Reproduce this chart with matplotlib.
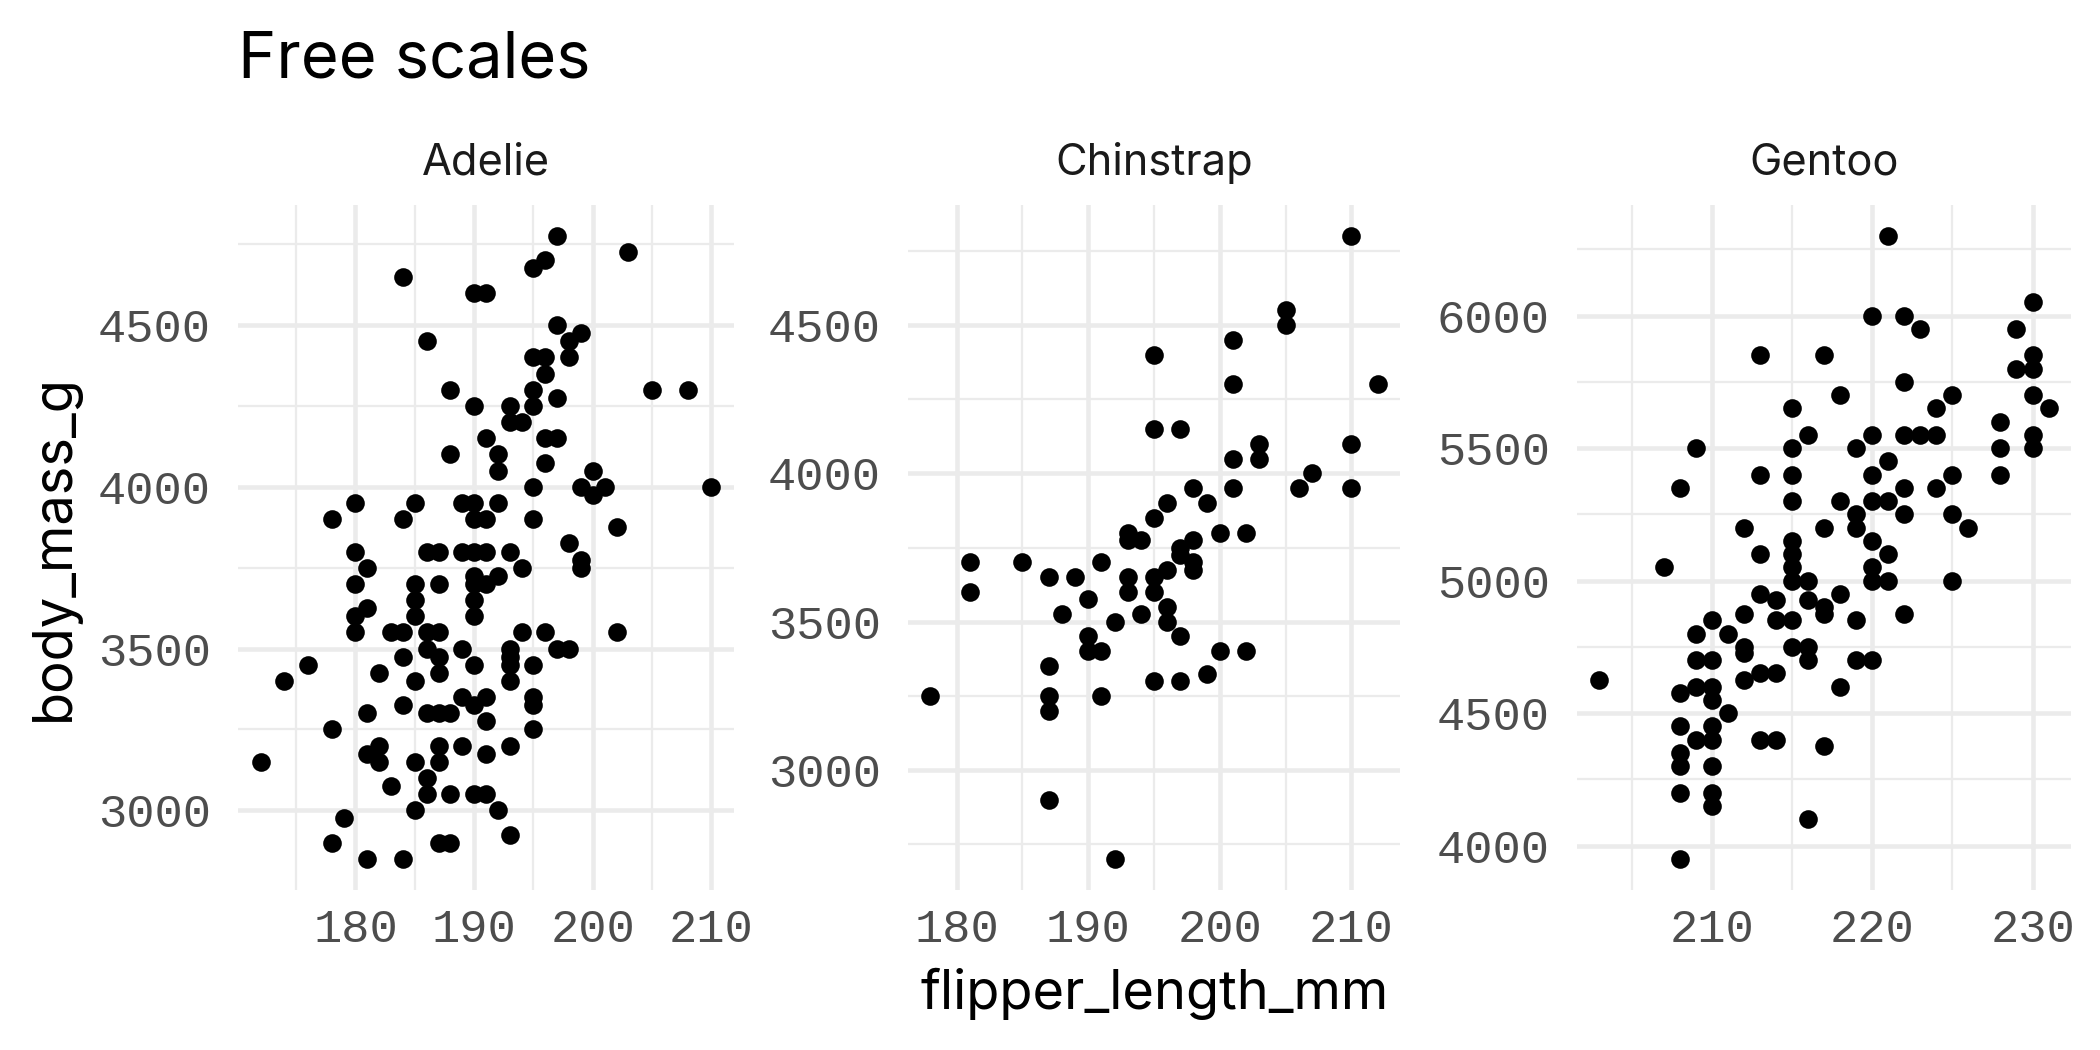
import matplotlib
matplotlib.use("Agg")
import matplotlib.pyplot as plt
import numpy as np
from matplotlib.ticker import FixedLocator

# ---- data ----
species = ["Adelie", "Chinstrap", "Gentoo"]

adelie_flipper = [197,203,196,195,184,190,191,197,199,198,186,195,196,198,196,188,195,205,208,197,
                  190,193,195,193,194,191,196,197,188,192,192,196,200,195,199,201,200,210,180,178,
                  185,184,189,190,192,190,191,195,202,198,199,180,186,187,189,190,191,193,
                  199,181,194,192,190,190,191,180,185,187,190,185,181,180,185,190,180,183,184,186,
                  187,194,196,202,186,189,193,197,198,187,184,193,193,176,190,195,174,182,187,193,
                  185,189,191,190,195,195,184,186,187,188,181,191,178,195,182,187,189,193,181,191,
                  172,182,185,187,186,183,186,188,190,191,185,192,179,193,178,187,188,181,184]
adelie_mass = [4775,4725,4700,4675,4650,4600,4600,4500,4475,4450,4450,4400,4400,4400,4350,4300,4300,4300,4300,4275,
               4250,4250,4250,4200,4200,4150,4150,4150,4100,4100,4050,4075,4050,4000,4000,4000,3975,4000,3950,3900,
               3950,3900,3950,3950,3950,3900,3900,3900,3875,3825,3775,3800,3800,3800,3800,3800,3800,3800,
               3750,3750,3750,3725,3725,3700,3700,3700,3700,3700,3650,3650,3625,3600,3600,3600,3550,3550,3550,3550,
               3550,3550,3550,3550,3500,3500,3500,3500,3500,3475,3475,3475,3450,3450,3450,3450,3400,3425,3425,3400,
               3400,3350,3350,3325,3350,3325,3325,3300,3300,3300,3300,3275,3250,3250,3200,3200,3200,3200,3175,3175,
               3150,3150,3150,3150,3100,3075,3050,3050,3050,3050,3000,3000,2975,2925,2900,2900,2900,2850,2850]

chinstrap_flipper = [210,205,205,201,195,201,212,195,197,203,210,201,203,207,206,201,210,198,196,199,
                     195,200,202,193,193,194,198,197,197,198,198,181,185,191,196,195,187,189,193,
                     193,195,181,190,188,194,192,196,196,197,190,190,191,200,202,187,199,195,197,178,
                     187,187,191,187,192]
chinstrap_mass = [4800,4550,4500,4450,4400,4300,4300,4150,4150,4100,4100,4050,4050,4000,3950,3950,3950,3950,3900,3900,
                  3850,3800,3800,3800,3775,3775,3775,3750,3725,3700,3675,3700,3700,3700,3675,3650,3650,3650,3650,
                  3600,3600,3600,3575,3525,3525,3500,3550,3500,3450,3450,3400,3400,3400,3400,3350,3325,3300,3300,3250,
                  3250,3200,3250,2900,2700]

gentoo_flipper = [221,230,220,222,223,229,213,217,230,230,229,222,218,225,230,215,224,231,228,216,
                  220,222,223,224,230,230,209,215,219,228,221,213,215,220,225,228,208,222,224,215,
                  218,220,221,219,219,222,225,212,217,226,215,215,215,215,220,213,221,207,220,220,
                  216,221,225,
                  213,214,216,218,217,217,212,222,210,214,215,219,209,211,212,212,215,216,216,219,
                  220,209,210,203,212,213,214,218,209,210,208,210,211,208,210,209,210,213,214,217,
                  208,208,210,208,210,210,216,208]
gentoo_mass = [6300,6050,6000,6000,5950,5950,5850,5850,5850,5800,5800,5750,5700,5700,5700,5650,5650,5650,5600,5550,
               5550,5550,5550,5550,5550,5500,5500,5500,5500,5500,5450,5400,5400,5400,5400,5400,5350,5350,5350,5300,
               5300,5300,5300,5250,5200,5250,5250,5200,5200,5200,5150,5100,5050,5000,5150,5100,5100,5050,5050,5000,
               5000,5000,5000,
               4950,4925,4925,4950,4900,4875,4875,4875,4850,4850,4850,4850,4800,4800,4750,4725,4750,4750,4700,4700,
               4700,4700,4700,4625,4625,4650,4650,4600,4600,4600,4575,4550,4500,4450,4450,4400,4400,4400,4400,4375,
               4350,4300,4300,4200,4200,4150,4100,3950]

x_major = [[180, 190, 200, 210], [180, 190, 200, 210], [210, 220, 230]]
x_minor = [[175, 185, 195, 205], [185, 195, 205], [205, 215, 225]]
y_major = [[3000, 3500, 4000, 4500], [3000, 3500, 4000, 4500], [4000, 4500, 5000, 5500, 6000]]
y_minor = [[3250, 3750, 4250, 4750], [2750, 3250, 3750, 4250, 4750], [4250, 4750, 5250, 5750, 6250]]

xs = [adelie_flipper, chinstrap_flipper, gentoo_flipper]
ys = [adelie_mass, chinstrap_mass, gentoo_mass]

# ---- figure ----
W, H = 2100, 1050
fig = plt.figure(figsize=(7, 3.5), dpi=300)
sans = ["Inter", "DejaVu Sans"]
mono = ["Liberation Mono", "DejaVu Sans Mono"]

panels_px = [(238, 734), (908, 1400), (1577, 2071)]
top_px, bot_px = 205, 890
grid_col = "#EBEBEB"

for i, (l, r) in enumerate(panels_px):
    ax = fig.add_axes([l / W, 1 - bot_px / H, (r - l) / W, (bot_px - top_px) / H])
    x = np.array(xs[i]); y = np.array(ys[i])
    ax.scatter(x, y, s=20, color="black", linewidths=0, zorder=3)
    xr = x.max() - x.min(); yr = y.max() - y.min()
    ax.set_xlim(x.min() - 0.05 * xr, x.max() + 0.05 * xr)
    ax.set_ylim(y.min() - 0.05 * yr, y.max() + 0.05 * yr)
    ax.xaxis.set_major_locator(FixedLocator(x_major[i]))
    ax.xaxis.set_minor_locator(FixedLocator(x_minor[i]))
    ax.yaxis.set_major_locator(FixedLocator(y_major[i]))
    ax.yaxis.set_minor_locator(FixedLocator(y_minor[i]))
    ax.grid(which="major", color=grid_col, linewidth=1.1, zorder=0)
    ax.grid(which="minor", color=grid_col, linewidth=0.55, zorder=0)
    ax.set_axisbelow(True)
    for s in ax.spines.values():
        s.set_visible(False)
    ax.tick_params(which="both", length=0)
    ax.tick_params(axis="y", pad=6.5, labelsize=11.3, labelcolor="#4D4D4D")
    ax.tick_params(axis="x", pad=4.2, labelsize=11.3, labelcolor="#4D4D4D")
    for lab in ax.get_xticklabels() + ax.get_yticklabels():
        lab.set_family(mono)
    fig.text((l + r) / 2 / W, 1 - 163 / H, species[i], ha="center", va="center",
             fontsize=10.4, color="#1A1A1A", family=sans)

fig.text(238 / W, 1 - 77 / H, "Free scales", ha="left", va="baseline",
         fontsize=15.6, color="black", family=sans)
fig.text((238 + 2071) / 2 / W, 1 - 994 / H, "flipper_length_mm", ha="center", va="center",
         fontsize=13, color="black", family=sans)
fig.text(54 / W, 1 - (top_px + bot_px) / 2 / H, "body_mass_g", ha="center", va="center",
         rotation=90, fontsize=13, color="black", family=sans)

fig.savefig("out.png", dpi=300, facecolor="white")
